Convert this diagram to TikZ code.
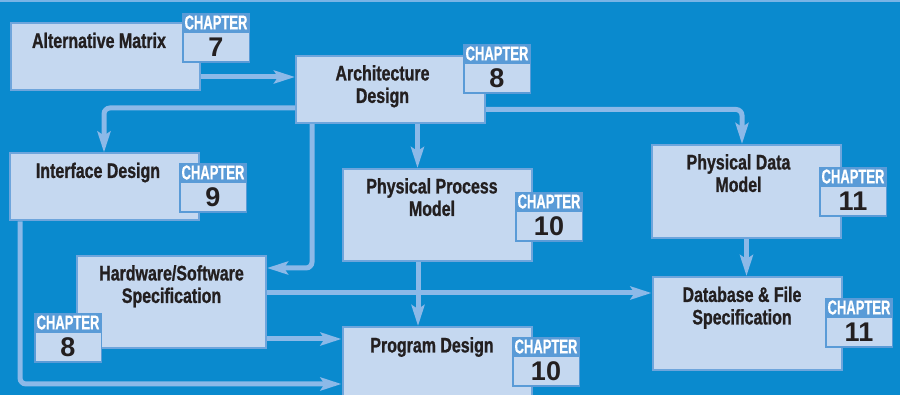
\documentclass[tikz,border=0pt]{standalone}
\usepackage{fontspec}
\setmainfont{Liberation Sans}
\newfontfamily\boxfont[FakeStretch=0.76, FakeBold=1]{Liberation Sans Bold}
\newfontfamily\chapfont[FakeStretch=0.65, FakeBold=0.6]{Liberation Sans Bold}
\newfontfamily\numfont{Liberation Sans Bold}
\usetikzlibrary{calc}
\usetikzlibrary{positioning}
\usetikzlibrary{arrows.meta}

\definecolor{bgblue}{RGB}{10,138,206}
\definecolor{topline}{RGB}{120,180,230}
\definecolor{boxfill}{RGB}{197,216,240}
\definecolor{boxline}{RGB}{110,165,220}
\definecolor{arrowblue}{RGB}{140,185,232}
\definecolor{bandblue}{RGB}{90,155,215}
\definecolor{inkdark}{RGB}{35,31,32}

\begin{document}
\begin{tikzpicture}[%
  x=1pt, y=-1pt,
  >={Stealth[length=21pt,width=13pt,inset=4pt]},
  stage/.style={draw=boxline, fill=boxfill, line width=2pt,
    minimum width=189pt, inner sep=0pt},
  stagetext/.style={anchor=north, inner sep=0pt, align=center, text=inkdark,
    font=\boxfont\fontsize{21}{22.5}\selectfont},
  band/.style={anchor=north west, draw=bandblue, fill=bandblue, line width=1.5pt,
    minimum width=66.5pt, minimum height=17.5pt, inner sep=0pt, text=white,
    font=\chapfont\fontsize{20}{20}\selectfont},
  chapno/.style={draw=bandblue, fill=boxfill, line width=1.5pt,
    minimum width=66.5pt, minimum height=29.5pt, inner sep=0pt, text=inkdark,
    font=\numfont\fontsize{27}{27}\selectfont},
  flow/.style={draw=arrowblue, line width=5pt, ->, rounded corners=6pt},
]

  \useasboundingbox (0,0) rectangle (900,395);
  \fill[bgblue] (0,0) rectangle (900,395);
  \fill[topline] (0,0) rectangle (900,2.5);

  % stages
  \node[stage, minimum height=67pt] (am) at (105,57) {};
  \node[stage, minimum height=67pt] (ad) at (390.5,89.5) {};
  \node[stage, minimum height=67pt] (id) at (104,187) {};
  \node[stage, minimum height=92pt] (hw) at (171.5,302) {};
  \node[stage, minimum height=92pt] (pp) at (437,215) {};
  \node[stage, minimum height=92pt] (pg) at (437,373) {};
  \node[stage, minimum height=93pt] (dm) at (746.5,191.5) {};
  \node[stage, minimum height=93pt] (df) at (747,323.5) {};

  \node[stagetext] (amt) at ($(am.north)+(-6,10)$) {Alternative Matrix};
  \node[stagetext] (adt) at ($(ad.north)+(-8,10)$) {Architecture\\Design};
  \node[stagetext] (idt) at ($(id.north)+(-6,10)$) {Interface Design};
  \node[stagetext] (hwt) at ($(hw.north)+(0,10)$) {Hardware/Software\\Specification};
  \node[stagetext] (ppt) at ($(pp.north)+(-5,10)$) {Physical Process\\Model};
  \node[stagetext] (pgt) at ($(pg.north)+(-5,11)$) {Program Design};
  \node[stagetext] (dmt) at ($(dm.north)+(-8,10)$) {Physical Data\\Model};
  \node[stagetext] (dft) at ($(df.north)+(-5,10.5)$) {Database \& File\\Specification};

  % chapter tags
  \foreach \nm/\px/\py/\num in {c7/182/13/7, c8a/463/44/8, c9/179/163/9,
      c8b/34/313/8, c10a/515/192/10, c10b/512/337/10,
      c11a/819/167/11, c11b/825/298/11} {
    \node[band] (\nm) at (\px,\py) {CHAPTER};
    \node[chapno, below=0pt of \nm] (\nm-n) {\num};
  }

  % flows
  \draw[flow] ([yshift=-20pt]am.east) -- ([yshift=-20pt]am.east -| ad.west);
  \draw[flow] ([yshift=-18.5pt]ad.west) -| (id.north);
  \draw[flow] ([xshift=27pt]ad.south) -- ([xshift=27pt]ad.south |- pp.north);
  \draw[flow] ([yshift=-20pt]ad.east) -| ([xshift=-4.5pt]dm.north);
  \draw[flow] ([xshift=-78.5pt]ad.south) |- ([yshift=34pt]hw.east);
  \draw[flow] ([xshift=-84pt]id.south) |- ([yshift=-11pt]pg.west);
  \draw[flow] ([yshift=9pt]hw.east) -- ([yshift=9pt]hw.east -| df.west);
  \draw[flow] ([yshift=-37pt]hw.east) -- ([yshift=-37pt]hw.east -| pg.west);
  \draw[flow] (dm.south) -- (dm.south |- df.north);
  \draw[flow] ([xshift=-19pt]pp.south) -- ([xshift=-19pt]pp.south |- pg.north);

\end{tikzpicture}
\end{document}
